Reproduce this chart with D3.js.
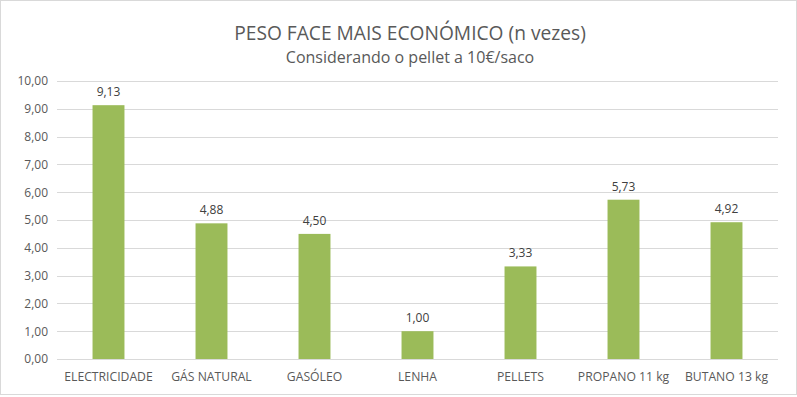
<!DOCTYPE html>
<html>
<head>
<meta charset="utf-8">
<script src="https://cdn.jsdelivr.net/npm/d3@7"></script>
<style>
  body { margin: 0; background: #fff; }
  text { font-family: "Open Sans", "Noto Sans", sans-serif; }
</style>
</head>
<body>
<div id="chart"></div>
<script>
const categories = ["ELECTRICIDADE", "GÁS NATURAL", "GASÓLEO", "LENHA", "PELLETS", "PROPANO 11 kg", "BUTANO 13 kg"];
const values = [9.13, 4.88, 4.50, 1.00, 3.33, 5.73, 4.92];
const yTicks = [0, 1, 2, 3, 4, 5, 6, 7, 8, 9, 10];
const title = "PESO FACE MAIS ECONÓMICO (n vezes)";
const subtitle = "Considerando o pellet a 10€/saco";

const width = 797;
const height = 397;
const margin = { top: 81, right: 19, bottom: 38, left: 57 };

const fmt = v => d3.format(".2f")(v).replace(".", ",");

const svg = d3.select("#chart")
  .append("svg")
  .attr("width", width)
  .attr("height", height);

// Moldura
svg.append("rect")
  .attr("x", 0.5)
  .attr("y", 0.5)
  .attr("width", width - 1)
  .attr("height", height - 3)
  .attr("fill", "#fff")
  .attr("stroke", "#d9d9d9");

const x = d3.scaleBand()
  .domain(categories)
  .range([margin.left, width - margin.right])
  .paddingInner(0.69)
  .paddingOuter(0.345);

const y = d3.scaleLinear()
  .domain([0, 10])
  .range([height - margin.bottom, margin.top]);

// Grelha
svg.append("g")
  .selectAll("line")
  .data(yTicks)
  .enter()
  .append("line")
  .attr("x1", margin.left)
  .attr("x2", width - margin.right)
  .attr("y1", d => Math.round(y(d)) + 0.5)
  .attr("y2", d => Math.round(y(d)) + 0.5)
  .attr("stroke", "#d9d9d9")
  .attr("stroke-width", 1);

// Eixo Y
const yAxis = svg.append("g")
  .attr("transform", `translate(${margin.left - 9},0)`)
  .call(d3.axisLeft(y).tickValues(yTicks).tickFormat(fmt).tickSize(0).tickPadding(0));
yAxis.select(".domain").remove();
yAxis.selectAll("text")
  .attr("fill", "#595959")
  .style("font-size", "12px")
  .style("font-family", "'Open Sans', sans-serif");

// Eixo X
const xAxis = svg.append("g")
  .attr("transform", `translate(0,${height - margin.bottom})`)
  .call(d3.axisBottom(x).tickSize(0).tickPadding(13));
xAxis.select(".domain").remove();
xAxis.selectAll("text")
  .attr("fill", "#595959")
  .style("font-size", "12.2px")
  .style("font-family", "'Open Sans', sans-serif");

// Barras
svg.append("g")
  .selectAll("rect")
  .data(values)
  .enter()
  .append("rect")
  .attr("x", (d, i) => x(categories[i]))
  .attr("y", d => y(d))
  .attr("width", x.bandwidth())
  .attr("height", d => y(0) - y(d))
  .attr("fill", "#9bbb59");

// Rótulos
svg.append("g")
  .selectAll("text")
  .data(values)
  .enter()
  .append("text")
  .attr("x", (d, i) => x(categories[i]) + x.bandwidth() / 2)
  .attr("y", d => y(d) - 9)
  .attr("text-anchor", "middle")
  .attr("fill", "#404040")
  .style("font-size", "12px")
  .text(fmt);

// Título
svg.append("text")
  .attr("x", 410)
  .attr("y", 40)
  .attr("text-anchor", "middle")
  .attr("fill", "#595959")
  .style("font-size", "19.2px")
  .text(title);

svg.append("text")
  .attr("x", 410)
  .attr("y", 63)
  .attr("text-anchor", "middle")
  .attr("fill", "#595959")
  .style("font-size", "16px")
  .text(subtitle);
</script>
</body>
</html>
